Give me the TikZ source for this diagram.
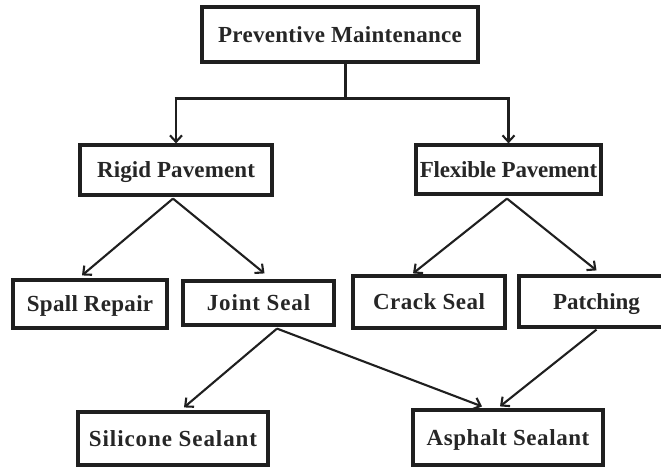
\documentclass[tikz,border=0pt]{standalone}
\usepackage{fontspec}
\setmainfont{Liberation Serif}
\usetikzlibrary{arrows.meta,calc}
\begin{document}
\begin{tikzpicture}[x=1pt,y=-1pt,
  box/.style={draw=black!88, line width=3.2pt, fill=white, inner sep=0pt,
    font=\fontsize{23}{25}\selectfont\bfseries, text=black!85, anchor=center,
    text height=15.2pt, text depth=0pt},
  sp/.style={execute at begin node={\addfontfeature{LetterSpace=#1}}},
  link/.style={draw=black!88, line width=2.1pt,
    -{Straight Barb[length=6.5pt,width=12pt,line width=2.1pt]}},
  trunk/.style={draw=black!88, line width=3pt}]
\useasboundingbox (0,0) rectangle (661,466);

% boxes
\node[box, sp=1.3, minimum width=276pt, minimum height=55pt] (pm) at (340,34.5) {Preventive Maintenance};
\node[box, sp=0.5, minimum width=192pt, minimum height=50pt] (rigid) at (176,170) {Rigid Pavement};
\node[box, sp=-1.0, minimum width=185pt, minimum height=49pt] (flex) at (508.5,169.5) {Flexible Pavement};
\node[box, sp=1.3, minimum width=154pt, minimum height=48pt] (spall) at (90,304) {Spall Repair};
\node[box, sp=3.7, minimum width=151pt, minimum height=44pt] (joint) at (258.5,303) {Joint Seal};
\node[box, sp=2.2, minimum width=152pt, minimum height=52pt] (crack) at (429,302) {Crack Seal};
\node[box, sp=0, minimum width=155pt, minimum height=51pt] (patch) at (596.5,301.5) {Patching};
\node[box, sp=4.0, minimum width=190pt, minimum height=53pt] (silicone) at (173,438.5) {Silicone Sealant};
\node[box, sp=2.5, minimum width=190pt, minimum height=55pt] (asphalt) at (508,437.5) {Asphalt Sealant};

% trunk from the top box
\coordinate (hub) at ($(pm.south)+(5,35)$);
\coordinate (hubL) at (rigid.north |- hub);
\coordinate (hubR) at (flex.north |- hub);
\draw[trunk] ($(pm.south)+(5,0)$) -- (hub);
\draw[trunk] ($(hubL)+(-1.5,0)$) -- ($(hubR)+(1.5,0)$);
\draw[link] (hubL) -- (rigid.north);
\draw[link] (hubR) -- (flex.north);

% branches
\draw[link] ($(rigid.south)+(-3,2)$) -- ($(spall.north)+(-8,-3)$);
\draw[link] ($(rigid.south)+(-3,2)$) -- ($(joint.north)+(6,-6)$);
\draw[link] ($(flex.south)+(-1.5,3)$) -- ($(crack.north)+(-16,-1)$);
\draw[link] ($(flex.south)+(-1.5,3)$) -- ($(patch.north)+(0,-4)$);
\draw[link] ($(joint.south)+(18.5,2)$) -- ($(silicone.north)+(11,-3)$);
\draw[link] ($(joint.south)+(18.5,2)$) -- ($(asphalt.north)+(-26,-2)$);
\draw[link] ($(patch.south)+(0,1)$) -- ($(asphalt.north)+(-8,-2)$);
\end{tikzpicture}
\end{document}
